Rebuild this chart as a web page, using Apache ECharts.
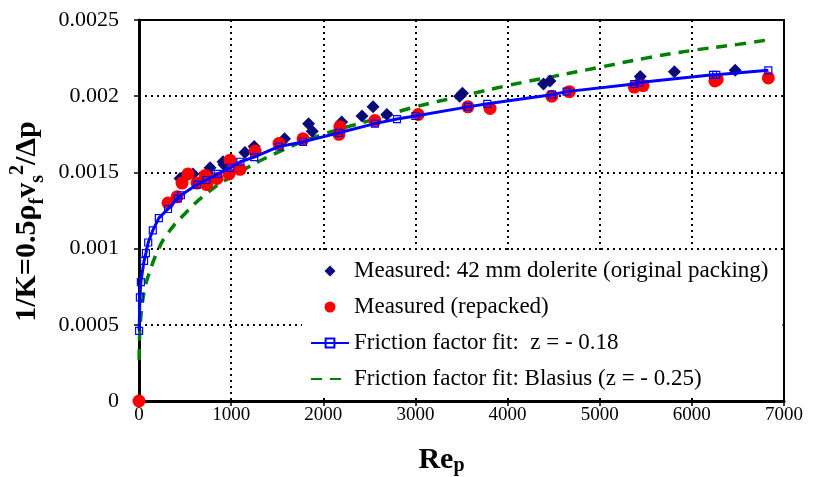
<!DOCTYPE html>
<html>
<head>
<meta charset="utf-8">
<script src="https://cdn.jsdelivr.net/npm/echarts@6/dist/echarts.min.js"></script>
<style>html,body{margin:0;padding:0;background:#fff;}#c{width:814px;height:477px;}</style>
</head>
<body>
<div id="c"></div>
<script>
// ---- data ----
const xTicks = [0, 1000, 2000, 3000, 4000, 5000, 6000, 7000];
const yTicks = [0, 0.0005, 0.001, 0.0015, 0.002, 0.0025];

const seriesNames = [
  'Measured: 42 mm dolerite (original packing)',
  'Measured (repacked)',
  'Friction factor fit:  z = - 0.18',
  'Friction factor fit: Blasius (z = - 0.25)'
];

const reOriginal = [445, 586, 771, 912, 923, 1150, 1250, 1580, 1840, 1880, 2200, 2420, 2540, 2690, 3480, 3510, 4390, 4460, 5440, 5810, 6470];
const kOriginal  = [0.00146, 0.00149, 0.00153, 0.00157, 0.00155, 0.00163, 0.00167, 0.00172, 0.00182, 0.00177, 0.00183, 0.00187, 0.00193, 0.00188, 0.00200, 0.00202, 0.00208, 0.00210, 0.00213, 0.00216, 0.00217];

const reRepacked = [0, 315, 413, 467, 532, 630, 720, 735, 847, 977, 988, 1097, 1260, 1520, 1780, 2170, 2180, 2560, 3030, 3570, 3810, 4480, 4670, 5375, 5470, 6250, 6275, 6830];
const kRepacked  = [0, 0.00130, 0.00134, 0.00143, 0.00149, 0.00143, 0.00148, 0.00142, 0.00146, 0.00149, 0.00158, 0.00152, 0.00164, 0.00169, 0.00172, 0.00175, 0.00180, 0.00184, 0.00188, 0.00193, 0.00192, 0.00200, 0.00203, 0.00206, 0.00207, 0.00210, 0.00211, 0.00212];

const reFit = [1, 10, 20, 55, 75, 100, 150, 215, 315, 420, 455, 630, 730, 855, 990, 1100, 1250, 1520, 1780, 2170, 2560, 2800, 3000, 3570, 3780, 4480, 4640, 5375, 5430, 6230, 6265, 6830];
const kFit  = [0.00046, 0.00068, 0.00078, 0.00092, 0.00097, 0.00104, 0.00112, 0.00120, 0.00126, 0.00133, 0.00135, 0.00142, 0.00145, 0.00149, 0.00153, 0.00157, 0.00160, 0.00167, 0.00170, 0.00176, 0.00182, 0.00185, 0.00187, 0.00193, 0.00195, 0.00201, 0.00203, 0.00208, 0.00209, 0.00214, 0.00214, 0.00217];

const reBlasius = [1, 5, 10, 30, 60, 100, 200, 300, 500, 750, 1000, 1500, 2000, 2500, 3000, 3500, 4000, 4500, 5000, 5500, 6000, 6500, 6830];
const kBlasius  = [0.00027, 0.00039, 0.00047, 0.00061, 0.00073, 0.00082, 0.00098, 0.00109, 0.00123, 0.00137, 0.00147, 0.00163, 0.00175, 0.00184, 0.00193, 0.00200, 0.00207, 0.00213, 0.00219, 0.00225, 0.00230, 0.00234, 0.00237];

const pairs = (xs, ys) => xs.map((x, i) => [x, ys[i]]);

const FONT = '"Liberation Serif", "Times New Roman", serif';
const chart = echarts.init(document.getElementById('c'), null, {renderer: 'canvas'});

const gridLine = {show: true, lineStyle: {color: '#000', width: 2, type: [2, 4]}};
const DIAMOND = 'path://M5,0L10,5L5,10L0,5Z';

chart.setOption({
  backgroundColor: '#fff',
  animation: false,
  grid: {left: 139, right: 30, top: 20, bottom: 76, containLabel: false, outerBoundsMode: 'none',
         show: true, borderColor: '#000', borderWidth: 2},
  xAxis: {
    type: 'value', min: xTicks[0], max: xTicks[xTicks.length - 1], interval: xTicks[1] - xTicks[0],
    axisLine: {show: true, onZero: false, lineStyle: {color: '#000', width: 3}},
    axisTick: {show: true, length: 5, lineStyle: {color: '#000', width: 1.5}},
    axisLabel: {color: '#000', fontFamily: FONT, fontSize: 19, margin: 5, formatter: v => String(v)},
    splitLine: gridLine,
    name: '{b|Re}{s|p}', nameLocation: 'middle', nameGap: 44,
    nameTextStyle: {
      padding: [0, 40, 0, 0],
      rich: {
        b: {fontFamily: FONT, fontWeight: 'bold', fontSize: 30, color: '#000', lineHeight: 31, verticalAlign: 'top'},
        s: {fontFamily: FONT, fontWeight: 'bold', fontSize: 20, color: '#000', lineHeight: 31, verticalAlign: 'bottom'}
      }
    }
  },
  yAxis: {
    type: 'value', min: yTicks[0], max: yTicks[yTicks.length - 1], interval: yTicks[1] - yTicks[0],
    axisLine: {show: true, onZero: false, lineStyle: {color: '#000', width: 3}},
    axisTick: {show: true, length: 5, lineStyle: {color: '#000', width: 1.5}},
    axisLabel: {color: '#000', fontFamily: FONT, fontSize: 22, margin: 20},
    splitLine: gridLine,
    name: '{b|1/K=0.5ρ}{s|f}{b|v}{s|s}{p|2}{b|/Δp}',
    nameLocation: 'middle', nameRotate: 90, nameGap: 88,
    nameTextStyle: {
      padding: [0, 22, 0, 0],
      rich: {
        b: {fontFamily: FONT, fontWeight: 'bold', fontSize: 30, color: '#000', lineHeight: 40, verticalAlign: 'middle'},
        s: {fontFamily: FONT, fontWeight: 'bold', fontSize: 20, color: '#000', lineHeight: 40, verticalAlign: 'bottom'},
        p: {fontFamily: FONT, fontWeight: 'bold', fontSize: 20, color: '#000', lineHeight: 40, verticalAlign: 'top'}
      }
    }
  },
  legend: {
    orient: 'vertical', left: 302, top: 253,
    data: [
      {name: seriesNames[0], icon: DIAMOND, itemStyle: {color: '#0a0a78'}},
      {name: seriesNames[1], icon: 'circle'},
      {name: seriesNames[2]},
      {name: seriesNames[3], itemStyle: {color: 'rgba(0,0,0,0)', borderWidth: 0}}
    ],
    backgroundColor: '#fff', borderWidth: 0,
    padding: [6, 14, 6, 8],
    itemWidth: 38, itemHeight: 11, itemGap: 12,
    textStyle: {fontFamily: FONT, fontSize: 23, lineHeight: 24, color: '#000'},
    z: 10
  },
  series: [
    {
      name: seriesNames[3], type: 'line', data: pairs(reBlasius, kBlasius),
      showSymbol: false, symbol: 'none', smooth: true, z: 2,
      lineStyle: {color: '#008000', width: 3.5, type: [11, 8]},
      itemStyle: {color: '#008000'}
    },
    {
      name: seriesNames[0], type: 'scatter', data: pairs(reOriginal, kOriginal),
      symbol: 'diamond', symbolSize: 13, z: 3,
      itemStyle: {color: '#0a0a78', opacity: 1}
    },
    {
      name: seriesNames[1], type: 'scatter', data: pairs(reRepacked, kRepacked),
      symbol: 'circle', symbolSize: 13, z: 4, clip: false,
      itemStyle: {color: '#ff0000', opacity: 1}
    },
    {
      name: seriesNames[2], type: 'line', data: pairs(reFit, kFit),
      symbol: 'rect', symbolSize: 7, showSymbol: true, smooth: false, z: 5,
      lineStyle: {color: '#0000ff', width: 3},
      itemStyle: {color: 'rgba(0,0,0,0)', borderColor: '#0000ff', borderWidth: 1.2}
    }
  ]
});
</script>
</body>
</html>
